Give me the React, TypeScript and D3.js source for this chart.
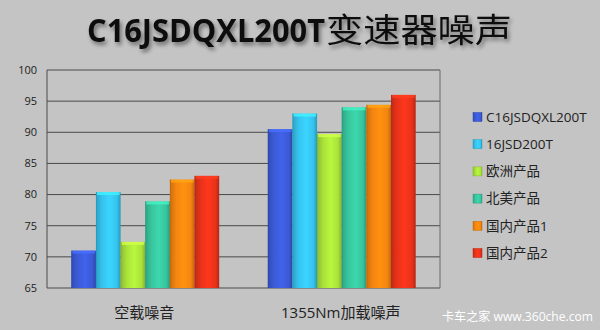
import React from "react";
import * as d3 from "d3";

const categories = ["空载噪音", "1355Nm加载噪声"];
const seriesNames = ["C16JSDQXL200T", "16JSD200T", "欧洲产品", "北美产品", "国内产品1", "国内产品2"];
const seriesColors = ["#3b5ad6", "#35c3ee", "#a9e23a", "#38c59e", "#f4850f", "#e8321a"];
const values = [
  [71.0, 80.4, 72.4, 78.9, 82.4, 83.0],
  [90.5, 93.0, 89.7, 94.0, 94.4, 96.0],
];
const yTicks = [65, 70, 75, 80, 85, 90, 95, 100];
const titleLatin = "C16JSDQXL200T";
const titleCjk = "变速器噪声";
const watermark = "卡车之家 www.360che.com";

const W = 600, H = 330;
const plot = { left: 47, right: 440, top: 70, bottom: 288 };

export default function App() {
  const x0 = d3.scaleBand().domain(categories).range([plot.left, plot.right]).paddingInner(0).paddingOuter(0);
  const groupPad = 24.3;
  const x1 = d3.scaleBand().domain(seriesNames.map((_, i) => String(i))).range([0, x0.bandwidth() - 2 * groupPad]).padding(0);
  const y = d3.scaleLinear().domain([65, 100]).range([plot.bottom, plot.top]);
  const font = "'Open Sans', 'Noto Sans CJK SC', sans-serif";
  const cjk = "'Noto Sans CJK SC', sans-serif";

  return (
    <svg width={W} height={H} style={{ position: "absolute", left: 0, top: 0, display: "block" }}>
      <defs>
        {seriesColors.map((c, i) => {
          const cc = d3.color(c)!;
          return (
            <linearGradient key={i} id={`g${i}`} x1="0" x2="1" y1="0" y2="0">
              <stop offset="0" stopColor={d3.color(c)!.darker(0.5).toString()} />
              <stop offset="0.25" stopColor={c} />
              <stop offset="0.55" stopColor={cc.brighter(0.25).toString()} />
              <stop offset="0.85" stopColor={c} />
              <stop offset="1" stopColor={d3.color(c)!.darker(0.7).toString()} />
            </linearGradient>
          );
        })}
        <filter id="shadow" x="-5%" y="-20%" width="110%" height="160%">
          <feGaussianBlur in="SourceAlpha" stdDeviation="2" />
          <feOffset dx="2" dy="3" result="b" />
          <feComponentTransfer><feFuncA type="linear" slope="0.45" /></feComponentTransfer>
          <feMerge><feMergeNode /><feMergeNode in="SourceGraphic" /></feMerge>
        </filter>
      </defs>
      <rect x={0} y={0} width={W} height={H} fill="#c4c4c4" />

      {/* title */}
      <g filter="url(#shadow)">
        <text x={87} y={42} fontFamily="'Open Sans', sans-serif" fontWeight="bold" fontSize={33} fill="#111"
          textLength={238} lengthAdjust="spacingAndGlyphs">{titleLatin}</text>
        <text x={326} y={42} fontFamily={cjk} fontSize={33} fill="#111"
          textLength={186} lengthAdjust="spacingAndGlyphs">{titleCjk}</text>
      </g>

      {/* grid */}
      {yTicks.map((t) => (
        <g key={t}>
          <line x1={plot.left} x2={plot.right} y1={y(t)} y2={y(t)} stroke="#4a4a4a" strokeWidth={1} />
          <text x={37} y={y(t)} dy="0.35em" textAnchor="end" fontFamily={font} fontSize={11} fill="#222">{t}</text>
        </g>
      ))}
      <line x1={plot.left} x2={plot.left} y1={plot.top} y2={plot.bottom} stroke="#4a4a4a" />
      <line x1={plot.right} x2={plot.right} y1={plot.top} y2={plot.bottom} stroke="#6a6a6a" />

      {/* bars */}
      {categories.map((cat, ci) => (
        <g key={cat} transform={`translate(${x0(cat)! + groupPad},0)`}>
          {values[ci].map((v, si) => {
            const bx = x1(String(si))!;
            const bw = x1.bandwidth();
            const top = y(v);
            const c = seriesColors[si];
            return (
              <g key={si}>
                <rect x={bx} y={top} width={bw} height={plot.bottom - top} fill={`url(#g${si})`} />
                <rect x={bx + 1} y={top} width={bw - 2} height={3} fill={d3.color(c)!.brighter(0.6).toString()} opacity={0.8} />
                <line x1={bx + 0.5} x2={bx + 0.5} y1={top} y2={plot.bottom} stroke={d3.color(c)!.darker(0.8).toString()} strokeOpacity={0.5} />
              </g>
            );
          })}
        </g>
      ))}

      {/* category labels */}
      {categories.map((cat) => (
        <text key={cat} x={x0(cat)! + x0.bandwidth() / 2 - 1} y={318} textAnchor="middle" fontFamily={font} fontSize={15} fill="#222">{cat}</text>
      ))}

      {/* legend */}
      {seriesNames.map((n, i) => {
        const cy = 117 + i * 27.2;
        return (
          <g key={n}>
            <rect x={473} y={cy - 4.5} width={9} height={9} fill={`url(#g${i})`} stroke={d3.color(seriesColors[i])!.darker(0.6).toString()} strokeWidth={0.5} />
            <text x={486} y={cy} dy="0.36em" fontFamily={font} fontSize={13.5} fill="#222">{n}</text>
          </g>
        );
      })}

      <text x={593} y={321} textAnchor="end" fontFamily={font} fontSize={12.5} fill="#fff" textLength={151} lengthAdjust="spacingAndGlyphs">{watermark}</text>
    </svg>
  );
}
